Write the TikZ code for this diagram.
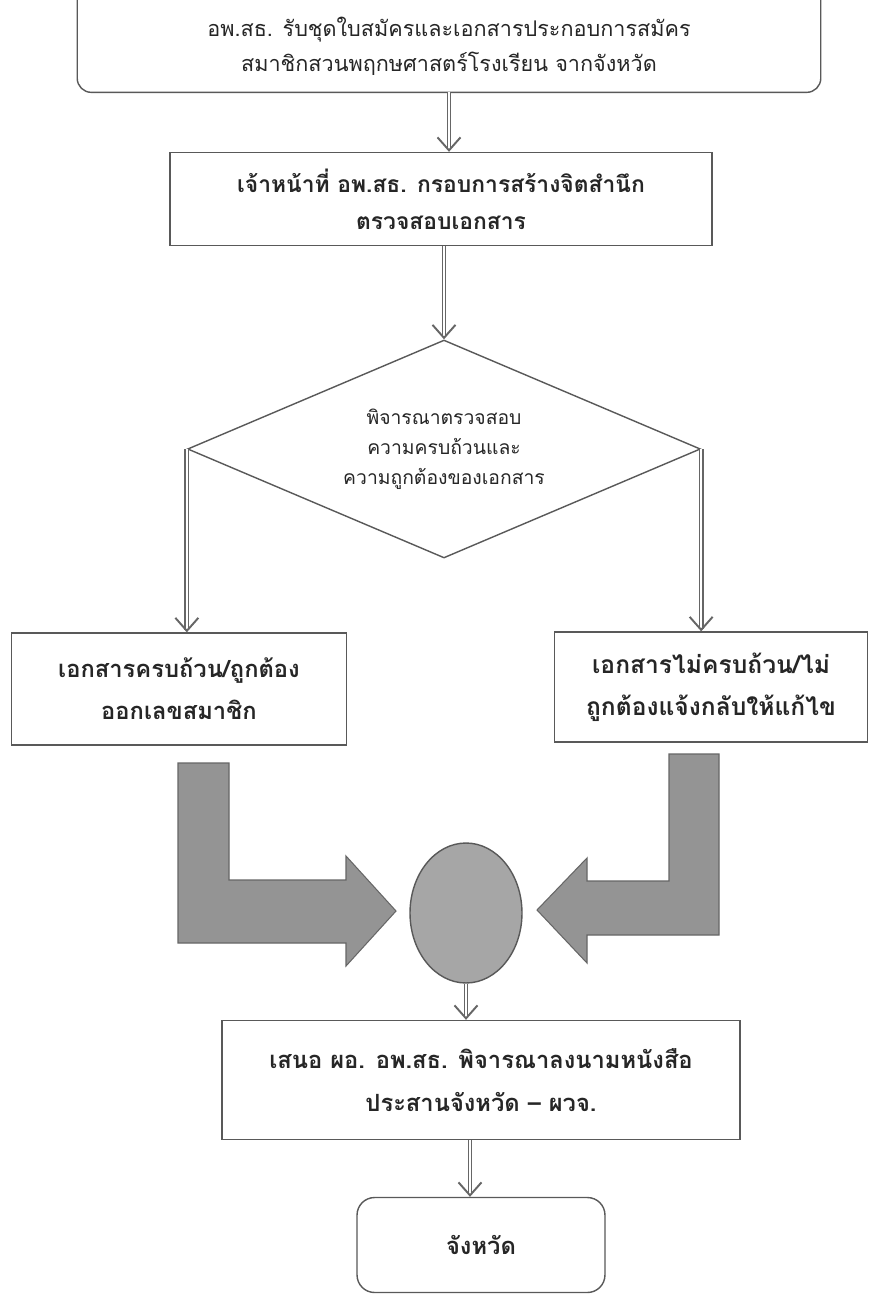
\documentclass[tikz,border=0pt]{standalone}
\usepackage{fontspec}
\setmainfont[Script=Thai]{Loma}
\usetikzlibrary{arrows.meta,shapes.geometric}

\begin{document}
\begin{tikzpicture}[x=0.02cm,y=-0.02cm,
    box/.style={draw=black!65, line width=0.8pt, align=center, text=black!85,
      font=\fontsize{13.5}{24}\bfseries\selectfont, inner sep=0pt},
    flow/.style={draw=black!60, line width=0.7pt, double=white, double distance=1.3pt,
      -{Straight Barb[length=2.6mm,width=4.6mm,line width=1.1pt]}},
    blockarrow/.style={fill=black!42, draw=black!60, line width=0.6pt}]
    \useasboundingbox[fill=white] (0,0) rectangle (872,1299);
    \clip (0,0) rectangle (872,1299);

    \node[align=center, text=black!85, font=\fontsize{12.3}{20}\selectfont,
      minimum width=14.86cm, minimum height=1.84cm, inner sep=0pt] (apply) at (449,46)
      {อพ.สธ. รับชุดใบสมัครและเอกสารประกอบการสมัคร\\สมาชิกสวนพฤกษศาสตร์โรงเรียน จากจังหวัด};
    \draw[draw=black!65, line width=0.8pt, rounded corners=8pt]
      ([yshift=3mm]apply.north west) -- (apply.south west) -- (apply.south east) -- ([yshift=3mm]apply.north east);

    \node[box, font=\fontsize{13}{21}\bfseries\selectfont, minimum width=10.84cm, minimum height=1.86cm] (check) at (441,199)
      {เจ้าหน้าที่ อพ.สธ. กรอบการสร้างจิตสำนึก\\ตรวจสอบเอกสาร};
    \node[diamond, aspect=2.35, draw=black!65, line width=0.8pt, align=center, text=black!85,
      font=\fontsize{11}{17}\selectfont, minimum width=10.26cm, minimum height=4.36cm,
      inner sep=0pt] (dia) at (444,449)
      {พิจารณาตรวจสอบ\\ความครบถ้วนและ\\ความถูกต้องของเอกสาร};
    \node[box, minimum width=6.7cm, minimum height=2.24cm] (ok) at (179,689)
      {เอกสารครบถ้วน/ถูกต้อง\\ออกเลขสมาชิก};
    \node[box, font=\fontsize{14}{24}\bfseries\selectfont, minimum width=6.26cm, minimum height=2.2cm] (notok) at (711,687)
      {เอกสารไม่ครบถ้วน/ไม่\\ถูกต้องแจ้งกลับให้แก้ไข};
    \node[ellipse, draw=black!65, fill=black!35, line width=0.8pt,
      minimum width=2.24cm, minimum height=2.8cm] (join) at (466,913) {};
    \node[box, minimum width=10.36cm, minimum height=2.38cm] (propose) at (481,1080)
      {เสนอ ผอ. อพ.สธ. พิจารณาลงนามหนังสือ\\ประสานจังหวัด – ผวจ.};
    \node[box, rounded corners=10pt, minimum width=4.96cm, minimum height=1.9cm] (prov) at (481,1245)
      {จังหวัด};

    \draw[flow] (apply.south) -- (apply.south |- check.north);
    \draw[flow] (dia.north |- check.south) -- (dia.north);
    \draw[flow] (dia.west) -- (dia.west |- ok.north);
    \draw[flow] (dia.east) -- (dia.east |- notok.north);
    \draw[flow] (join.south) -- (join.south |- propose.north);
    \draw[flow] ([xshift=-0.22cm]prov.north |- propose.south) -- ([xshift=-0.22cm]prov.north);

    \draw[blockarrow] (178,763) -- (229,763) -- (229,880) -- (346,880) -- (346,856)
      -- (396,911) -- (346,966) -- (346,943) -- (178,943) -- cycle;
    \draw[blockarrow] (719,754) -- (669,754) -- (669,881) -- (587,881) -- (587,858)
      -- (537,910) -- (587,963) -- (587,935) -- (719,935) -- cycle;
\end{tikzpicture}
\end{document}
